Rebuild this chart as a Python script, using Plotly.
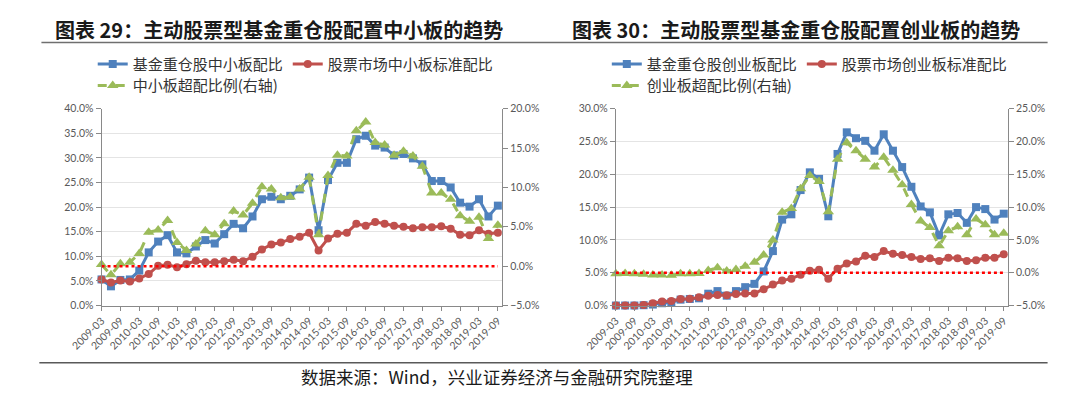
import plotly.graph_objects as go

# quarterly dates 2009-03 .. 2019-09
quarters = [f"{y}-{m}" for y in range(2009, 2020) for m in ("03", "06", "09", "12")][:43]
x_idx = list(range(len(quarters)))
tick_idx = x_idx[::2]
tick_text = quarters[::2]

# chart 29: 中小板 (left axis %, right axis %)
sme_fund = [5.3, 3.9, 5.2, 5.3, 7.1, 10.8, 13.0, 14.3, 10.8, 10.6,
            12.0, 13.3, 12.6, 14.5, 16.6, 15.7, 18.1, 21.6, 22.1, 21.6,
            22.3, 23.6, 26.0, 15.3, 25.5, 29.0, 29.0, 33.8, 34.5, 32.5,
            32.1, 30.5, 30.8, 29.9, 28.7, 25.3, 25.3, 24.0, 20.9, 20.1,
            21.6, 18.1, 20.3]
sme_market = [5.3, 4.7, 5.1, 4.9, 5.5, 6.4, 8.1, 8.3, 7.8, 8.4,
              9.1, 8.8, 8.8, 9.0, 9.3, 9.0, 9.9, 11.4, 12.4, 12.8,
              13.5, 14.0, 14.8, 11.2, 13.6, 14.6, 14.8, 16.6, 16.2, 17.0,
              16.6, 16.2, 16.0, 15.7, 15.9, 15.9, 16.1, 15.6, 14.4, 14.3,
              15.3, 14.6, 14.8]
sme_excess = [0.2, -1.1, 0.3, 0.5, 1.6, 4.3, 4.6, 5.8, 3.0, 2.0,
              2.8, 4.5, 4.0, 5.4, 7.0, 6.5, 8.0, 10.1, 9.8, 8.7,
              8.8, 9.8, 11.3, 4.0, 11.5, 14.1, 14.0, 17.2, 18.3, 15.7,
              15.4, 14.1, 14.6, 14.0, 12.7, 9.3, 9.3, 8.5, 6.4, 5.7,
              6.2, 3.5, 5.2]

# chart 30: 创业板
gem_fund = [0.0, 0.0, 0.0, 0.05, 0.15, 0.35, 0.5, 0.9, 1.0, 1.1,
            1.8, 2.2, 1.5, 2.2, 2.8, 3.3, 5.2, 8.3, 13.1, 13.9,
            17.6, 20.3, 19.3, 13.6, 23.1, 26.4, 25.5, 25.1, 23.6, 26.1,
            23.6, 21.1, 18.1, 15.1, 14.2, 10.7, 13.9, 14.1, 12.6, 15.0,
            14.7, 13.1, 14.0]
gem_market = [0.0, 0.0, 0.0, 0.1, 0.35, 0.6, 0.7, 1.0, 1.05, 1.25,
              1.5, 1.6, 1.55, 1.75, 1.85, 1.85, 2.5, 3.2, 3.8, 4.1,
              4.7, 5.3, 5.45, 4.1, 5.6, 6.4, 6.7, 7.6, 7.4, 8.3,
              7.9, 7.7, 7.4, 7.1, 7.2, 6.8, 7.3, 7.2, 6.8, 6.9,
              7.3, 7.3, 7.8]
gem_excess = [-0.15, -0.1, -0.15, -0.25, -0.35, -0.35, -0.4, -0.15, -0.15, -0.1,
              0.35, 0.75, 0.25, 0.5, 1.0, 1.6, 2.7, 5.0, 9.2, 9.8,
              12.8, 14.8, 13.9, 9.3, 17.3, 19.8, 18.6, 17.3, 16.1, 17.6,
              15.6, 13.4, 10.4, 7.9, 6.9, 4.1, 6.4, 7.0, 5.8, 8.2,
              7.3, 5.8, 6.0]

BLUE = "#4F81BD"
RED = "#C0504D"
GREEN = "#9BBB59"
AXIS = "#898989"
TICK = "#595959"
CJK = "Noto Sans CJK SC"


def add_panel(fig, xa, ya, ya2, names, fund, market, excess, leg_a, leg_b):
    fig.add_trace(go.Scatter(
        x=x_idx, y=fund, name=names[0], xaxis=xa, yaxis=ya, legend=leg_a,
        mode="lines+markers", cliponaxis=False,
        line=dict(color=BLUE, width=3),
        marker=dict(symbol="square", size=8, color=BLUE),
    ))
    fig.add_trace(go.Scatter(
        x=x_idx, y=market, name=names[1], xaxis=xa, yaxis=ya, legend=leg_a,
        mode="lines+markers", cliponaxis=False,
        line=dict(color=RED, width=3),
        marker=dict(symbol="circle", size=8, color=RED),
    ))
    fig.add_trace(go.Scatter(
        x=x_idx, y=excess, name=names[2], xaxis=xa, yaxis=ya2, legend=leg_b,
        mode="lines+markers", cliponaxis=False,
        line=dict(color=GREEN, width=3, dash="dash"),
        marker=dict(symbol="triangle-up", size=10, color=GREEN),
    ))


fig = go.Figure()
add_panel(fig, "x", "y", "y2",
          ["基金重仓股中小板配比", "股票市场中小板标准配比", "中小板超配比例(右轴)"],
          sme_fund, sme_market, sme_excess, "legend", "legend2")
add_panel(fig, "x2", "y3", "y4",
          ["基金重仓股创业板配比", "股票市场创业板标准配比", "创业板超配比例(右轴)"],
          gem_fund, gem_market, gem_excess, "legend3", "legend4")

xcommon = dict(
    range=[0, 42.45], tickmode="array", tickvals=tick_idx, ticktext=tick_text,
    tickangle=-45, showgrid=False, showline=True, linecolor=AXIS, linewidth=1,
    ticks="outside", ticklen=4, tickcolor=AXIS, zeroline=False,
    tickfont=dict(family="Lato", size=10.5, color=TICK),
)
ycommon = dict(
    showline=True, linecolor=AXIS, linewidth=1, ticks="outside", ticklen=5,
    tickcolor=AXIS, zeroline=False, dtick=5, tickformat=".1f", ticksuffix="%",
    tickfont=dict(family="Lato", size=10.5, color=TICK),
)
ydom = [0.230, 0.736]

fig.update_layout(
    width=1080, height=401,
    margin=dict(l=0, r=0, t=0, b=0),
    paper_bgcolor="white", plot_bgcolor="white",
    xaxis=dict(domain=[0.0664, 0.449], anchor="y", **xcommon),
    yaxis=dict(domain=ydom, range=[0, 40], showgrid=True, gridcolor="#E4E4E4",
               anchor="x", **ycommon),
    yaxis2=dict(range=[-5, 20], overlaying="y", side="right", anchor="x",
                showgrid=False, **ycommon),
    xaxis2=dict(domain=[0.5577, 0.9321], anchor="y3", **xcommon),
    yaxis3=dict(domain=ydom, range=[0, 30], showgrid=True, gridcolor="#E4E4E4",
                anchor="x2", **ycommon),
    yaxis4=dict(range=[-5, 25], overlaying="y3", side="right", anchor="x2",
                showgrid=False, **ycommon),
    showlegend=True,
)

legfont = dict(family=CJK, size=15, color="#333333")
fig.update_layout(
    legend=dict(x=0.058, y=0.850, xanchor="left", yanchor="middle", orientation="h",
                font=legfont, bgcolor="rgba(0,0,0,0)", itemwidth=30),
    legend2=dict(x=0.058, y=0.795, xanchor="left", yanchor="middle", orientation="h",
                 font=legfont, bgcolor="rgba(0,0,0,0)", itemwidth=30),
    legend3=dict(x=0.549, y=0.850, xanchor="left", yanchor="middle", orientation="h",
                 font=legfont, bgcolor="rgba(0,0,0,0)", itemwidth=30),
    legend4=dict(x=0.549, y=0.795, xanchor="left", yanchor="middle", orientation="h",
                 font=legfont, bgcolor="rgba(0,0,0,0)", itemwidth=30),
)

# red dotted zero lines on the right axes
fig.add_shape(type="line", xref="x", yref="y2", x0=0, x1=42, y0=0, y1=0,
              line=dict(color="#FF0000", width=2.5, dash="dot"))
fig.add_shape(type="line", xref="x2", yref="y4", x0=0, x1=42, y0=0, y1=0,
              line=dict(color="#FF0000", width=2.5, dash="dot"))

# title underline and footer rule (one continuous line each)
fig.add_shape(type="line", xref="paper", yref="paper", x0=0.009, x1=0.970,
              y0=0.906, y1=0.906, line=dict(color="#6F6F6F", width=1.5))
fig.add_shape(type="line", xref="paper", yref="paper", x0=0.007, x1=0.970,
              y0=0.083, y1=0.083, line=dict(color="#595959", width=1.5))

titlefont = dict(family=CJK, size=20, color="#1A1A1A", weight="bold")
fig.add_annotation(text="图表 29：主动股票型基金重仓股配置中小板的趋势",
                   xref="paper", yref="paper", x=0.020, y=0.940,
                   xanchor="left", yanchor="middle", showarrow=False, font=titlefont)
fig.add_annotation(text="图表 30：主动股票型基金重仓股配置创业板的趋势",
                   xref="paper", yref="paper", x=0.514, y=0.940,
                   xanchor="left", yanchor="middle", showarrow=False, font=titlefont)
fig.add_annotation(text="数据来源：Wind，兴业证券经济与金融研究院整理",
                   xref="paper", yref="paper", x=0.444, y=0.047,
                   xanchor="center", yanchor="middle", showarrow=False,
                   font=dict(family=CJK, size=17.5, color="#1A1A1A"))

# no default page margin, so figure pixels line up with the window
fig.write_html("out.html", config={"displayModeBar": False},
               post_script="document.body.style.margin='0';")
